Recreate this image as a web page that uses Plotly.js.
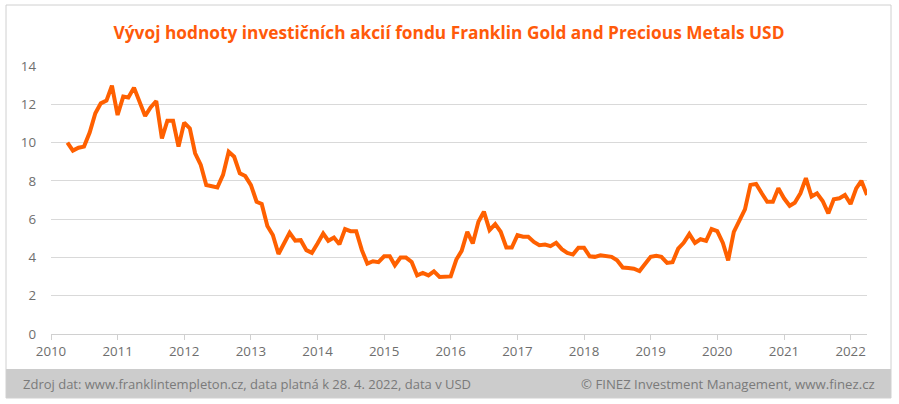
<!DOCTYPE html>
<html>
<head>
<meta charset="utf-8">
<script src="https://cdn.plot.ly/plotly-3.0.1.min.js"></script>
<style>
html,body{margin:0;padding:0;background:#fff;}
#chart{width:899px;height:404px;}
</style>
</head>
<body>
<div id="chart"></div>
<script>
// Monthly values, April 2010 – April 2022 (USD)
const startYear = 2010;
const startMonth = 4;
const values = [
  10.0, 9.58, 9.73, 9.79, 10.52, 11.53, 12.05, 12.19, 12.97, 11.44, 12.40, 12.35,
  12.87, 12.14, 11.39, 11.84, 12.17, 10.22, 11.14, 11.14, 9.79, 11.04, 10.74, 9.44,
  8.83, 7.78, 7.70, 7.66, 8.31, 9.52, 9.26, 8.39, 8.25, 7.78, 6.91, 6.79,
  5.64, 5.17, 4.18, 4.70, 5.29, 4.88, 4.90,
  4.38, 4.24, 4.73, 5.25, 4.87, 5.04, 4.69, 5.48, 5.37, 5.37, 4.38, 3.68,
  3.80, 3.75, 4.06, 4.06, 3.59, 3.99, 3.99, 3.76, 3.06, 3.19, 3.06, 3.27,
  2.98, 2.98, 3.01, 3.89, 4.34, 5.34, 4.73, 5.86, 6.39, 5.43, 5.74, 5.34,
  4.52, 4.52, 5.16, 5.08, 5.08, 4.81, 4.64, 4.67, 4.59, 4.76, 4.43, 4.24,
  4.15, 4.50, 4.50, 4.06, 4.03,
  4.11, 4.08, 4.03, 3.85, 3.47, 3.45, 3.41, 3.29, 3.64, 4.03, 4.08, 4.03,
  3.71, 3.75, 4.46, 4.76, 5.22, 4.76, 4.95, 4.87, 5.48, 5.37, 4.76, 3.85,
  5.34, 5.92, 6.51, 7.79, 7.84, 7.35, 6.91, 6.91, 7.61, 7.09, 6.70, 6.86,
  7.35, 8.14, 7.18, 7.35, 6.95, 6.30, 7.04, 7.09, 7.26, 6.79, 7.61, 8.00, 7.26
];
const dates = values.map((v, i) => {
  const m0 = startMonth - 1 + i;
  const y = startYear + Math.floor(m0 / 12);
  const m = (m0 % 12) + 1;
  return y + '-' + String(m).padStart(2, '0') + '-01';
});
const yTicks = [0, 2, 4, 6, 8, 10, 12, 14];
const titleText = 'Vývoj hodnoty investičních akcií fondu Franklin Gold and Precious Metals USD';
const sourceText = 'Zdroj dat: www.franklintempleton.cz, data platná k 28. 4. 2022, data v USD';
const copyrightText = '© FINEZ Investment Management, www.finez.cz';

const W = 899, H = 404, L = 51, R = 867, T = 66, B = 334;
const px = x => (x - L) / (R - L);
const py = y => (B - y) / (B - T);

const trace = {
  x: dates, y: values, type: 'scatter', mode: 'lines',
  line: {color: '#FF6000', width: 4, shape: 'linear'},
  hoverinfo: 'x+y'
};

const layout = {
  width: W, height: H,
  margin: {l: L, r: W - R, t: T, b: H - B, pad: 0},
  paper_bgcolor: '#ffffff', plot_bgcolor: '#ffffff',
  showlegend: false,
  font: {family: 'Open Sans, sans-serif', color: '#6e6e6e', size: 13},
  title: {
    text: '<b>' + titleText + '</b>',
    font: {family: 'Open Sans, sans-serif', size: 17.3, color: '#FF5A0A'},
    x: 449 / W, xanchor: 'center', xref: 'container',
    y: 1 - 33 / H, yanchor: 'middle', yref: 'container'
  },
  xaxis: {
    type: 'date',
    range: ['2010-01-01', '2022-04-01'],
    dtick: 'M12', tick0: '2010-01-01', tickformat: '%Y',
    ticks: 'outside', ticklen: 5, tickcolor: '#d0d0d0', tickwidth: 1,
    showgrid: false, zeroline: false,
    showline: true, linecolor: '#d0d0d0', linewidth: 1,
    tickfont: {size: 13.3, color: '#6e6e6e'},
    fixedrange: true
  },
  yaxis: {
    range: [0, 14], tickvals: yTicks, ticktext: yTicks.map(String),
    showgrid: true, gridcolor: '#d9d9d9', gridwidth: 1,
    zeroline: false, showline: false, ticks: '',
    ticklabelstandoff: 14,
    tickfont: {size: 13.3, color: '#6e6e6e'},
    fixedrange: true
  },
  shapes: [
    {type: 'rect', xref: 'paper', yref: 'paper',
     x0: px(6), x1: px(891), y0: py(369), y1: py(398),
     fillcolor: '#cccccc', line: {width: 0}, layer: 'below'},
    {type: 'rect', xref: 'paper', yref: 'paper',
     x0: px(6), x1: px(891), y0: py(398), y1: py(5),
     fillcolor: 'rgba(0,0,0,0)', line: {color: '#d0d0d0', width: 1}}
  ],
  annotations: [
    {text: sourceText, xref: 'paper', yref: 'paper', x: px(21), y: py(384),
     xanchor: 'left', yanchor: 'middle', showarrow: false,
     font: {size: 13, color: '#7a7a7a'}},
    {text: copyrightText, xref: 'paper', yref: 'paper', x: px(877), y: py(384),
     xanchor: 'right', yanchor: 'middle', showarrow: false,
     font: {size: 13.2, color: '#7a7a7a'}}
  ]
};

Plotly.newPlot('chart', [trace], layout, {displayModeBar: false, staticPlot: true});
</script>
</body>
</html>
